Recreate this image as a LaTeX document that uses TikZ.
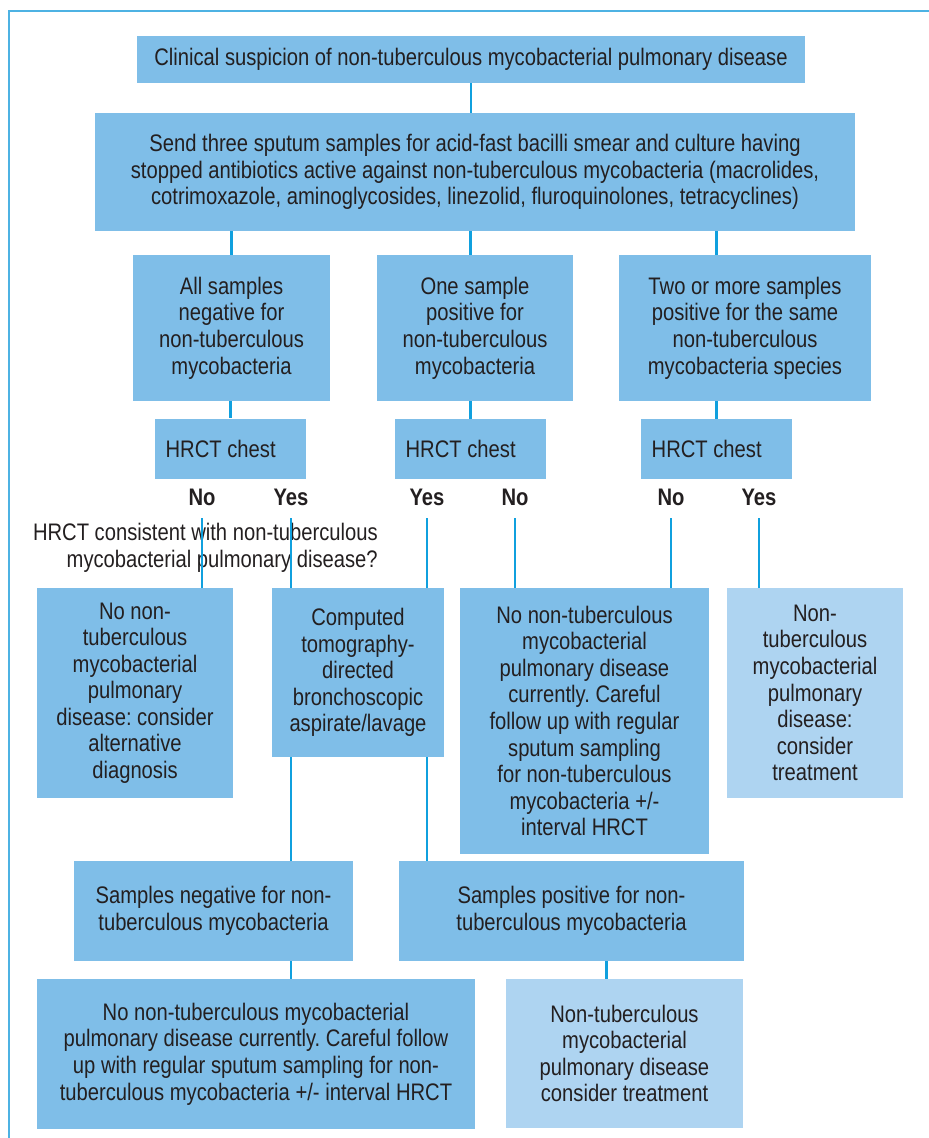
\documentclass[tikz,border=0pt]{standalone}
\usepackage{fontspec}
\setmainfont[FakeStretch=0.845]{Liberation Sans}
\usetikzlibrary{calc}
\frenchspacing

\definecolor{boxblue}{HTML}{7FBEE8}
\definecolor{paleblue}{HTML}{AED4F1}
\definecolor{linkblue}{HTML}{10A0DE}
\definecolor{frameblue}{HTML}{4DB2E3}
\definecolor{inkgrey}{HTML}{231F20}

\begin{document}
\begin{tikzpicture}[x=0.025cm,y=-0.025cm,
	wh/.style 2 args={minimum width=#1*0.025cm,minimum height=#2*0.025cm},
	box/.style={fill=boxblue,inner sep=0pt,align=center,text=inkgrey,
		font=\fontsize{17}{18.9}\selectfont},
	pale/.style={box,fill=paleblue},
	answer/.style={text=inkgrey,inner sep=5pt,text height=12pt,text depth=3.5pt,
		font=\fontsize{17}{18.9}\selectfont\bfseries},
	link/.style={draw=linkblue,line width=2pt}]

% frame %{{{2

	\useasboundingbox (0,0) rectangle (928,1138);
	\draw[frameblue,line width=1pt] (9,1140) -- (9,11) -- (930,11);

% first levels %{{{2

	\node[box,wh={668}{47}] (suspect) at (471,59.5)
	{Clinical suspicion of non-tuberculous mycobacterial pulmonary disease};

	\node[box,wh={760}{118}] (sputum) at (475,172)
	{Send three sputum samples for acid-fast bacilli smear and culture having\\
	stopped antibiotics active against non-tuberculous mycobacteria (macrolides,\\
	cotrimoxazole, aminoglycosides, linezolid, fluroquinolones, tetracyclines)};

	% ---- three sample results

	\node[box,wh={197}{146}] (allneg) at (231.5,328)
	{All samples\\ negative for\\ non-tuberculous\\ mycobacteria};
	\node[box,wh={196}{146}] (onepos) at (475,328)
	{One sample\\ positive for\\ non-tuberculous\\ mycobacteria};
	\node[box,wh={252}{146}] (twopos) at (745,328)
	{Two or more samples\\ positive for the same\\ non-tuberculous\\ mycobacteria species};

% HRCT %{{{2

	\node[box,wh={151}{60}] (hrctA) at (230.5,448.5) {HRCT chest\hspace*{14pt}};
	\node[box,wh={151}{60}] (hrctB) at (470.5,449) {HRCT chest\hspace*{14pt}};
	\node[box,wh={151}{60}] (hrctC) at (716.5,449) {HRCT chest\hspace*{14pt}};

	% ---- answers

	\node[answer] (noA)  at (202,500) {No};
	\node[answer] (yesA) at (291,500) {Yes};
	\node[answer] (yesB) at (427,500) {Yes};
	\node[answer] (noB)  at (515,500) {No};
	\node[answer] (noC)  at (671,500) {No};
	\node[answer] (yesC) at (759,500) {Yes};

	\node[align=right,anchor=east,inner sep=0pt,text=inkgrey,
		font=\fontsize{17}{18.9}\selectfont] (question) at (378,548)
	{HRCT consistent with non-tuberculous\\ mycobacterial pulmonary disease?};

% outcomes %{{{2

	\node[box,wh={196}{210}] (altdx) at (135,693)
	{No non-\\ tuberculous\\ mycobacterial\\ pulmonary\\ disease: consider\\
	alternative\\ diagnosis};
	\node[box,wh={172}{169}] (bronch) at (358,672.5)
	{Computed\\ tomography-\\ directed\\ bronchoscopic\\ aspirate/lavage};
	\node[box,wh={249}{266}] (careful) at (584.5,721)
	{No non-tuberculous\\ mycobacterial\\ pulmonary disease\\ currently. Careful\\
	follow up with regular\\ sputum sampling\\ for non-tuberculous\\
	mycobacteria +/-\\ interval HRCT};
	\node[pale,wh={176}{210}] (treatA) at (815,693)
	{Non-\\ tuberculous\\ mycobacterial\\ pulmonary\\ disease:\\ consider\\ treatment};

	% ---- bronchoscopy results

	\node[box,wh={279}{100}] (sampneg) at (213.5,911)
	{Samples negative for non-\\ tuberculous mycobacteria};
	\node[box,wh={345}{100}] (samppos) at (571.5,911)
	{Samples positive for non-\\ tuberculous mycobacteria};

	\node[box,wh={438}{150}] (nodis) at (256,1054)
	{No non-tuberculous mycobacterial\\ pulmonary disease currently. Careful follow\\
	up with regular sputum sampling for non-\\ tuberculous mycobacteria +/- interval HRCT};
	\node[pale,wh={237}{149}] (treatB) at (624.5,1053.5)
	{Non-tuberculous\\ mycobacterial\\ pulmonary disease\\ consider treatment};

% connectors %{{{2

	\draw[link] (suspect.south) -- (sputum.north -| suspect.south);
	\draw[link] (sputum.south -| allneg.north) -- (allneg.north);
	\draw[link] (sputum.south -| hrctB.north) -- (onepos.north -| hrctB.north);
	\draw[link] (sputum.south -| hrctC.north) -- (twopos.north -| hrctC.north);

	\draw[link] (allneg.south -| hrctA.north) -- (hrctA.north);
	\draw[link] (onepos.south -| hrctB.north) -- (hrctB.north);
	\draw[link] (twopos.south -| hrctC.north) -- (hrctC.north);

	% ---- answers down to outcomes

	\draw[link] (noA.south)  -- (noA.south |- altdx.north);
	\draw[link] (yesA.south) -- (yesA.south |- bronch.north);
	\draw[link] (yesB.south) -- (yesB.south |- bronch.north);
	\draw[link] (noB.south)  -- (noB.south |- careful.north);
	\draw[link] (noC.south)  -- (noC.south |- careful.north);
	\draw[link] (yesC.south) -- (yesC.south |- treatA.north);

	% ---- bronchoscopy branch

	\draw[link] (bronch.south -| yesA) -- (sampneg.north -| yesA);
	\draw[link] (bronch.south -| yesB) -- (samppos.north -| yesB);
	\draw[link] (sampneg.south -| yesA) -- (nodis.north -| yesA);
	\draw[link] ($(samppos.south)+(35,0)$) coordinate (pp) -- (pp |- treatB.north);

% closing %{{{2

\end{tikzpicture}
\end{document}
